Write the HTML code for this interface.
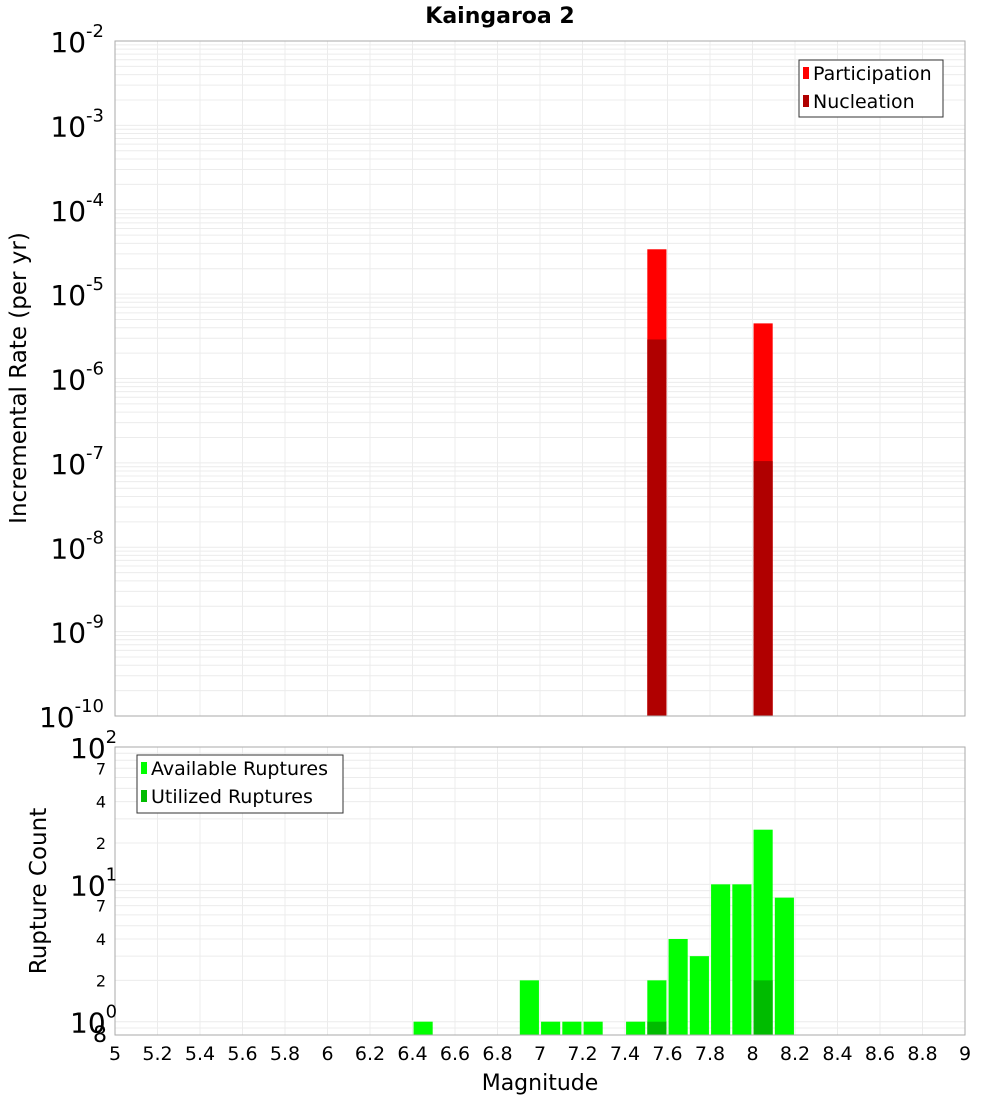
<!DOCTYPE html>
<html><head><meta charset="utf-8"><style>
body{margin:0;background:#fff;}
svg text{font-family:"DejaVu Sans","Liberation Sans",sans-serif;}
</style></head><body>
<svg id="chart" width="1000" height="1100" xmlns="http://www.w3.org/2000/svg">
<g id="g"></g>
</svg>
<script>
const topMags=[7.55,8.05];
const participation=[3.4e-5,4.5e-6];
const nucleation=[2.9e-6,1.05e-7];
const botMags=[6.45,6.95,7.05,7.15,7.25,7.45,7.55,7.65,7.75,7.85,7.95,8.05,8.15];
const available=[1,2,1,1,1,1,2,4,3,10,10,25,8];
const utilMags=[7.55,8.05];
const utilized=[1,2];
const xTicks=[5,5.2,5.4,5.6,5.8,6,6.2,6.4,6.6,6.8,7,7.2,7.4,7.6,7.8,8,8.2,8.4,8.6,8.8,9];
const topExps=[-10,-9,-8,-7,-6,-5,-4,-3,-2];

const NS="http://www.w3.org/2000/svg";
const g=document.getElementById('g');
function el(t,a,txt){const e=document.createElementNS(NS,t);for(const k in a)e.setAttribute(k,a[k]);if(txt!==undefined)e.textContent=txt;g.appendChild(e);return e;}
const X0=115,X1=965;
const xs=m=>X0+(m-5)/4*(X1-X0);
const T0=716,T1=41;
const yt=v=>T0-(Math.log10(v)+10)/8*(T0-T1);
const B0=1035,B2=747;
const dec=(B0-B2)/(2+Math.log10(1/0.8));
const yb=v=>B0-(Math.log10(v)-Math.log10(0.8))*dec;

for(let e=-10;e<-2;e++)for(let k=1;k<10;k++){const y=yt(k*Math.pow(10,e));const l=el('line',{x1:X0,x2:X1,y1:y,y2:y,stroke:'#ececec'});}
[0.8,0.9,1,2,3,4,5,6,7,8,9,10,20,30,40,50,60,70,80,90,100].forEach(v=>{const y=yb(v);const l=el('line',{x1:X0,x2:X1,y1:y,y2:y,stroke:'#ececec'});});
xTicks.forEach(t=>{const x=xs(t);
const a=el('line',{x1:x,x2:x,y1:T1,y2:T0,stroke:'#ececec'});
const b=el('line',{x1:x,x2:x,y1:B2,y2:B0,stroke:'#ececec'});
const lb=el('text',{x:x,y:1060,'font-size':19,'text-anchor':'middle'},String(t));});

const bw=xs(0.09)-xs(0);
topMags.forEach((m,i)=>{
 const r=el('rect',{x:xs(m)-bw/2,y:yt(participation[i]),width:bw,height:T0-yt(participation[i]),fill:'#ff0000'});
 const n=el('rect',{x:xs(m)-bw/2,y:yt(nucleation[i]),width:bw,height:T0-yt(nucleation[i]),fill:'#b00000'});
});
botMags.forEach((m,i)=>{const r=el('rect',{x:xs(m)-bw/2,y:yb(available[i]),width:bw,height:B0-yb(available[i]),fill:'#00ff00'});});
utilMags.forEach((m,i)=>{const r=el('rect',{x:xs(m)-bw/2,y:yb(utilized[i]),width:bw,height:B0-yb(utilized[i]),fill:'#00bb00'});});

const f1=el('rect',{x:X0,y:T1,width:X1-X0,height:T0-T1,fill:'none',stroke:'#aaa'});
const f2=el('rect',{x:X0,y:B2,width:X1-X0,height:B0-B2,fill:'none',stroke:'#aaa'});

topExps.forEach(e=>{const y=yt(Math.pow(10,e));
const t=el('text',{x:104,y:y+11,'font-size':28,'text-anchor':'end'});
t.innerHTML='10<tspan dy="-15" font-size="18">'+e+'</tspan>';});
[[1,'0'],[10,'1'],[100,'2']].forEach(([v,s])=>{const y=yb(v);const t=el('text',{x:70,y:y+11,'font-size':28});t.innerHTML='10<tspan dy="-15" font-size="18">'+s+'</tspan>';});
[[2,'2'],[4,'4'],[7,'7'],[20,'2'],[40,'4'],[70,'7']].forEach(([v,s])=>{const t=el('text',{x:106,y:yb(v)+6,'font-size':16,'text-anchor':'end'},s);});
const e8=el('text',{x:107,y:1042,'font-size':22,'text-anchor':'end'},'8');

const tt=el('text',{x:500,y:23,'font-size':22,'font-weight':'bold','text-anchor':'middle'},'Kaingaroa 2');
const ya=el('text',{x:0,y:0,'font-size':23,'text-anchor':'middle',transform:'translate(26,378) rotate(-90)'},'Incremental Rate (per yr)');
const yb2=el('text',{x:0,y:0,'font-size':23,'text-anchor':'middle',transform:'translate(46,891) rotate(-90)'},'Rupture Count');
const xa=el('text',{x:540,y:1090,'font-size':22,'text-anchor':'middle'},'Magnitude');

function legend(x,y,w,h,items,name){const b=el('rect',{x:x,y:y,width:w,height:h,fill:'#fff',stroke:'#333'});
items.forEach(([c,l],i)=>{const cy=y+13+i*28;const s=el('rect',{x:x+4,y:cy-6,width:6,height:12,fill:c});
const t=el('text',{x:x+14,y:cy+7,'font-size':19},l);});}
legend(799,60,144,57,[['#ff0000','Participation'],['#b00000','Nucleation']],'top-legend');
legend(137,755,206,58,[['#00ff00','Available Ruptures'],['#00bb00','Utilized Ruptures']],'bottom-legend');
</script>
</body></html>
